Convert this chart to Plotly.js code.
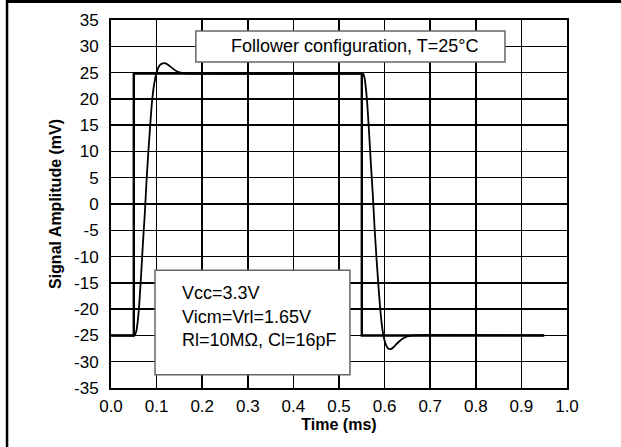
<!DOCTYPE html>
<html>
<head>
<meta charset="utf-8">
<script src="https://cdn.plot.ly/plotly-3.0.1.min.js"></script>
<style>html,body{margin:0;padding:0;background:#fff;}#chart{width:621px;height:447px;}</style>
</head>
<body>
<div id="chart"></div>
<script>
// Input square wave (mV vs ms)
const inputTime = [0.0, 0.05, 0.05, 0.55, 0.55, 0.95];
const inputAmp  = [-25, -25, 24.8, 24.8, -25, -25];

// Output (follower response)
const outputTime = [0.0, 0.050, 0.053, 0.056, 0.059, 0.062, 0.066, 0.070, 0.074, 0.078, 0.082, 0.086, 0.090, 0.095, 0.100, 0.106, 0.112, 0.118, 0.125, 0.135, 0.145, 0.158, 0.170,
  0.550, 0.553, 0.556, 0.559, 0.562, 0.566, 0.570, 0.574, 0.578, 0.582, 0.586, 0.590, 0.594, 0.598, 0.603, 0.608, 0.613, 0.620, 0.630, 0.640, 0.650, 0.660, 0.95];
const outputAmp = [-25, -25, -24.8, -24, -22, -19, -13.5, -7.5, -2, 4.5, 10, 15, 19.5, 23, 25, 26.3, 26.7, 26.8, 26.5, 25.8, 25.2, 24.9, 24.8,
  24.8, 24.8, 24, 22, 19, 13.5, 7.5, 2, -4.5, -10, -15, -19.5, -23, -25.3, -26.8, -27.5, -27.6, -27.2, -26.3, -25.6, -25.2, -25.0, -25.0];

const xTicks = [0.0, 0.1, 0.2, 0.3, 0.4, 0.5, 0.6, 0.7, 0.8, 0.9, 1.0];
const yTicks = [35, 30, 25, 20, 15, 10, 5, 0, -5, -10, -15, -20, -25, -30, -35];
const titleText = "Follower configuration, T=25°C";
const condText = ["Vcc=3.3V", "Vicm=Vrl=1.65V", "Rl=10MΩ, Cl=16pF"];

const FONT = "Liberation Sans, Arial, sans-serif";

const traces = [
  {x: inputTime, y: inputAmp, mode: 'lines', line: {color: '#000', width: 2.4}, hoverinfo: 'skip'},
  {x: outputTime, y: outputAmp, mode: 'lines', line: {color: '#000', width: 1.8, shape: 'spline', smoothing: 0.6}, hoverinfo: 'skip'}
];

const shapes = [
  {type: 'rect', xref: 'x', yref: 'y', x0: 0.186, x1: 0.864, y0: 27.0, y1: 32.9, fillcolor: '#fff', line: {color: '#666', width: 1.5}, layer: 'above'},
  {type: 'rect', xref: 'x', yref: 'y', x0: 0.0965, x1: 0.524, y0: -32.5, y1: -12.6, fillcolor: '#fff', line: {color: '#666', width: 1.5}, layer: 'above'},
  {type: 'line', xref: 'paper', yref: 'paper', x0: -0.228, x1: 1.2, y0: 1.0503, y1: 1.0503, line: {color: '#000', width: 3}},
  {type: 'line', xref: 'paper', yref: 'paper', x0: -0.228, x1: -0.228, y0: 1.06, y1: -0.2, line: {color: '#000', width: 2.5}}
];

const annotations = [
  {x: 0.535, y: 30, xref: 'x', yref: 'y', text: titleText, showarrow: false, font: {family: FONT, size: 18, color: '#000'}, xanchor: 'center', yanchor: 'middle'}
];
const condY = [-16.9, -21.5, -25.9];
condText.forEach((t, i) => annotations.push({x: 0.151, y: condY[i], xref: 'x', yref: 'y', text: t, showarrow: false, font: {family: FONT, size: 18, color: '#000'}, xanchor: 'left', yanchor: 'middle'}));

const layout = {
  width: 621, height: 447,
  margin: {l: 111, r: 54, t: 20, b: 59},
  paper_bgcolor: '#fff', plot_bgcolor: '#fff',
  showlegend: false,
  font: {family: FONT, color: '#000'},
  xaxis: {
    range: [0, 1], tickvals: xTicks, ticktext: xTicks.map(v => v.toFixed(1)),
    showgrid: true, gridcolor: '#000', gridwidth: 1.5, zeroline: false,
    showline: true, linecolor: '#000', linewidth: 2, mirror: true,
    ticks: 'outside', ticklen: 2, tickcolor: 'rgba(0,0,0,0)',
    tickfont: {family: FONT, size: 17, color: '#000'},
    title: {text: '<b>Time (ms)</b>', font: {family: FONT, size: 16, color: '#000'}, standoff: 1}
  },
  yaxis: {
    range: [-35, 35], tickvals: yTicks, ticktext: yTicks.map(String),
    showgrid: true, gridcolor: '#000', gridwidth: 1.5, zeroline: false,
    showline: true, linecolor: '#000', linewidth: 2, mirror: true,
    ticks: 'outside', ticklen: 7, tickcolor: 'rgba(0,0,0,0)',
    tickfont: {family: FONT, size: 17, color: '#000'},
    title: {text: '<b>Signal Amplitude (mV)</b>', font: {family: FONT, size: 16, color: '#000'}, standoff: 8}
  },
  shapes: shapes,
  annotations: annotations
};

Plotly.newPlot('chart', traces, layout, {displayModeBar: false, staticPlot: true});
</script>
</body>
</html>
